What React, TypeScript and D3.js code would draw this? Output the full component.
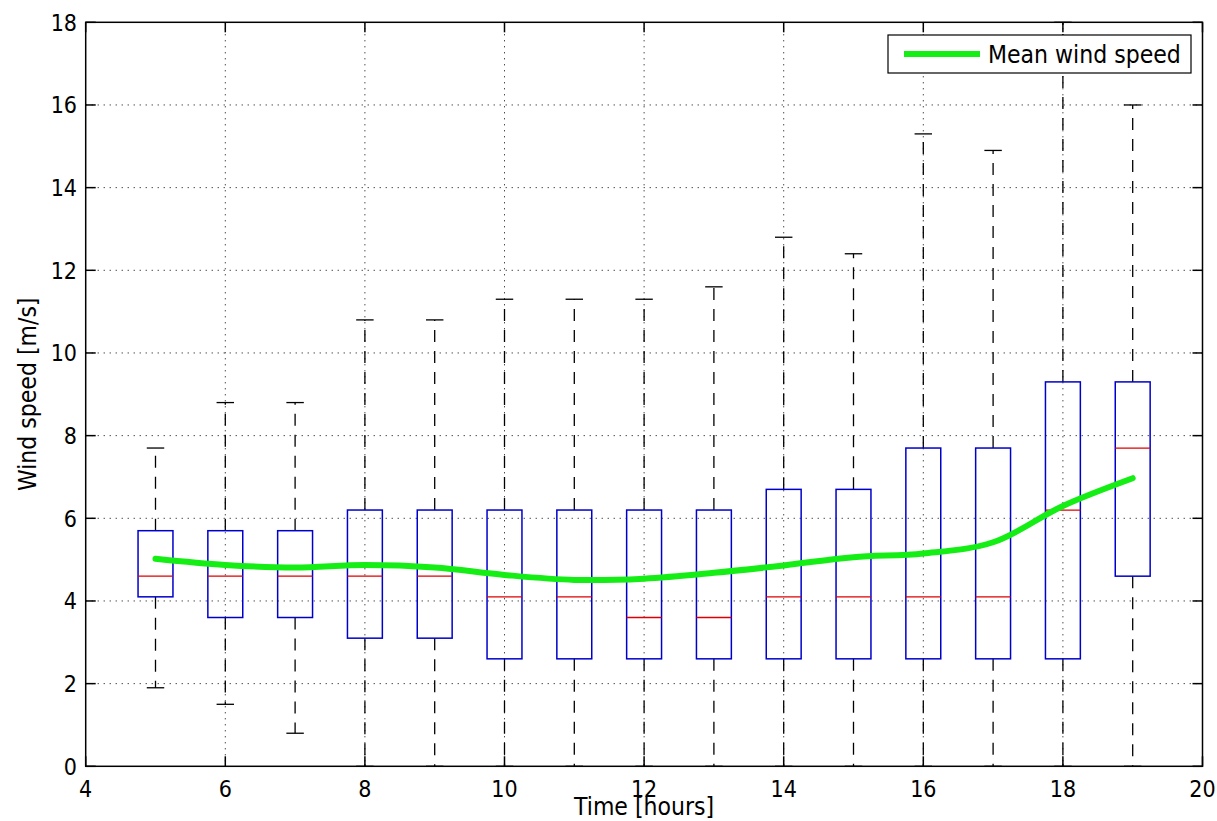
import React from 'react';
import * as d3 from 'd3';

// hours of the day
const hours = [5, 6, 7, 8, 9, 10, 11, 12, 13, 14, 15, 16, 17, 18, 19];
// box plot statistics per hour
const whiskerLow = [1.9, 1.5, 0.8, 0, 0, 0, 0, 0, 0, 0, 0, 0, 0, 0, 0];
const quartile1 = [4.1, 3.6, 3.6, 3.1, 3.1, 2.6, 2.6, 2.6, 2.6, 2.6, 2.6, 2.6, 2.6, 2.6, 4.6];
const medians = [4.6, 4.6, 4.6, 4.6, 4.6, 4.1, 4.1, 3.6, 3.6, 4.1, 4.1, 4.1, 4.1, 6.2, 7.7];
const quartile3 = [5.7, 5.7, 5.7, 6.2, 6.2, 6.2, 6.2, 6.2, 6.2, 6.7, 6.7, 7.7, 7.7, 9.3, 9.3];
const whiskerHigh = [7.7, 8.8, 8.8, 10.8, 10.8, 11.3, 11.3, 11.3, 11.6, 12.8, 12.4, 15.3, 14.9, 18, 16.0];
// mean wind speed curve
const meanSpeed = [5.02, 4.87, 4.81, 4.87, 4.81, 4.63, 4.51, 4.54, 4.68, 4.86, 5.06, 5.15, 5.42, 6.3, 6.97];

const xTicks = [4, 6, 8, 10, 12, 14, 16, 18, 20];
const yTicks = [0, 2, 4, 6, 8, 10, 12, 14, 16, 18];

const W = 1217;
const H = 821;
const left = 85.7;
const right = 1202.5;
const top = 22.3;
const bottom = 766.3;

const font = '"DejaVu Sans Condensed", "DejaVu Sans", sans-serif';

export default function App() {
  const x = d3.scaleLinear().domain([4, 20]).range([left, right]);
  const y = d3.scaleLinear().domain([0, 18]).range([bottom, top]);

  const boxHalf = (x(4.5) - x(4)) / 2;
  const capHalf = (x(4.25) - x(4)) / 2;

  const meanLine = d3
    .line<number>()
    .x((_, i) => x(hours[i]))
    .y((d) => y(d))
    .curve(d3.curveCatmullRom.alpha(0.5));

  const tickLen = 10;

  return (
    <svg
      width={W}
      height={H}
      style={{ position: 'absolute', left: 0, top: 0, display: 'block', background: '#fff', fontStretch: 'condensed' }}
      fontFamily={font}
    >
      <rect x={left} y={top} width={right - left} height={bottom - top} fill="#fff" />

      {/* grid */}
      <g stroke="#000" strokeWidth={1} strokeDasharray="1,5">
        {xTicks.slice(1, -1).map((t) => (
          <line key={'gx' + t} x1={x(t)} x2={x(t)} y1={top} y2={bottom} />
        ))}
        {yTicks.slice(1, -1).map((t) => (
          <line key={'gy' + t} x1={left} x2={right} y1={y(t)} y2={y(t)} />
        ))}
      </g>

      {/* whiskers */}
      <g stroke="#000" strokeWidth={1.3}>
        {hours.map((h, i) => (
          <g key={'w' + h}>
            <line x1={x(h)} x2={x(h)} y1={y(quartile3[i])} y2={y(whiskerHigh[i])} strokeDasharray="12,9" />
            <line x1={x(h)} x2={x(h)} y1={y(quartile1[i])} y2={y(whiskerLow[i])} strokeDasharray="12,9" />
            <line x1={x(h) - capHalf} x2={x(h) + capHalf} y1={y(whiskerHigh[i])} y2={y(whiskerHigh[i])} />
            <line x1={x(h) - capHalf} x2={x(h) + capHalf} y1={y(whiskerLow[i])} y2={y(whiskerLow[i])} />
          </g>
        ))}
      </g>

      {/* boxes */}
      {hours.map((h, i) => (
        <g key={'b' + h}>
          <rect
            x={x(h) - boxHalf}
            y={y(quartile3[i])}
            width={boxHalf * 2}
            height={y(quartile1[i]) - y(quartile3[i])}
            fill="none"
            stroke="#0000cc"
            strokeWidth={1.5}
          />
          <line
            x1={x(h) - boxHalf}
            x2={x(h) + boxHalf}
            y1={y(medians[i])}
            y2={y(medians[i])}
            stroke="#e00000"
            strokeWidth={1.3}
          />
        </g>
      ))}

      {/* mean line */}
      <path d={meanLine(meanSpeed) || ''} fill="none" stroke="#14ee14" strokeWidth={6} strokeLinecap="round" />

      {/* axes frame */}
      <rect x={left} y={top} width={right - left} height={bottom - top} fill="none" stroke="#000" strokeWidth={1.5} />

      {/* ticks */}
      <g stroke="#000" strokeWidth={1.5}>
        {xTicks.map((t) => (
          <g key={'tx' + t}>
            <line x1={x(t)} x2={x(t)} y1={bottom} y2={bottom - tickLen} />
            <line x1={x(t)} x2={x(t)} y1={top} y2={top + tickLen} />
          </g>
        ))}
        {yTicks.map((t) => (
          <g key={'ty' + t}>
            <line x1={left} x2={left + tickLen} y1={y(t)} y2={y(t)} />
            <line x1={right} x2={right - tickLen} y1={y(t)} y2={y(t)} />
          </g>
        ))}
      </g>

      {/* tick labels */}
      <g fontSize={23} fill="#000">
        {xTicks.map((t) => (
          <text key={'lx' + t} x={x(t)} y={797} textAnchor="middle">
            {t}
          </text>
        ))}
        {yTicks.map((t) => (
          <text key={'ly' + t} x={77} y={y(t)} dy="0.36em" textAnchor="end">
            {t}
          </text>
        ))}
      </g>

      {/* axis labels */}
      <text x={x(12)} y={815} textAnchor="middle" fontSize={24.5}>
        Time [hours]
      </text>
      <text transform={`translate(36, ${(top + bottom) / 2}) rotate(-90)`} textAnchor="middle" fontSize={24.5}>
        Wind speed [m/s]
      </text>

      {/* legend */}
      <g>
        <rect x={888} y={35} width={303} height={38} fill="#fff" stroke="#000" strokeWidth={1.2} />
        <line x1={904} x2={980} y1={54} y2={54} stroke="#14ee14" strokeWidth={6} />
        <text x={988} y={54} dy="0.36em" fontSize={24.5}>
          Mean wind speed
        </text>
      </g>
    </svg>
  );
}
